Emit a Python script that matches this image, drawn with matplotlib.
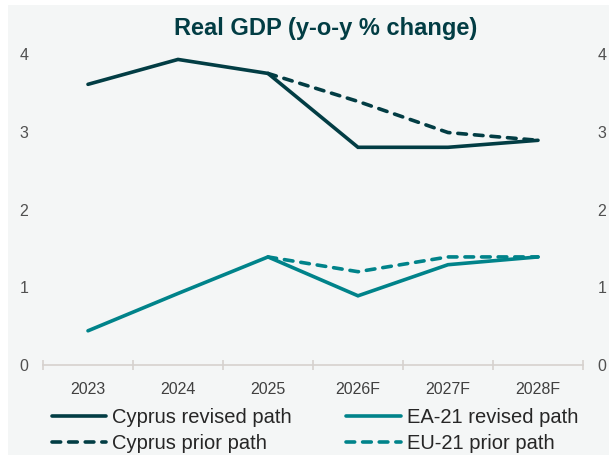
import matplotlib.pyplot as plt
from matplotlib.patches import Rectangle

years = ['2023', '2024', '2025', '2026F', '2027F', '2028F']
cyprus_revised = [3.61, 3.93, 3.75, 2.8, 2.8, 2.89]
cyprus_prior = [None, None, 3.75, 3.39, 2.99, 2.89]
ea_revised = [0.44, 0.92, 1.39, 0.89, 1.29, 1.39]
eu_prior = [None, None, 1.39, 1.2, 1.39, 1.39]

dark = '#023d44'
teal = '#00838a'
bg = '#f4f6f6'

plt.rcParams['font.family'] = ['Liberation Sans', 'DejaVu Sans']

fig = plt.figure(figsize=(6.09, 4.55), dpi=100, facecolor='white')
fig.patches.append(Rectangle((8 / 609, 0), 1, 1 - 5 / 455, transform=fig.transFigure,
                             facecolor=bg, edgecolor='none', zorder=-5))
ax = fig.add_axes([43 / 609, 1 - 365 / 455, 540 / 609, 311 / 455])
ax.patch.set_alpha(0)

x = list(range(len(years)))
px = [i for i, v in enumerate(cyprus_prior) if v is not None]

ax.plot(x, cyprus_revised, color=dark, lw=2.6, solid_capstyle='round', solid_joinstyle='miter',
        label='Cyprus revised path', zorder=4)
ax.plot(x, ea_revised, color=teal, lw=2.6, solid_capstyle='round', solid_joinstyle='miter',
        label='EA-21 revised path', zorder=4)
ax.plot(px, [cyprus_prior[i] for i in px], color=dark, lw=2.6, dashes=(2.4, 2.2),
        dash_capstyle='round', label='Cyprus prior path', zorder=3)
ax.plot(px, [eu_prior[i] for i in px], color=teal, lw=2.6, dashes=(2.4, 2.2),
        dash_capstyle='round', label='EU-21 prior path', zorder=3)

ax.set_xlim(-0.5, 5.5)
ax.set_ylim(0, 4)
ax.set_yticks([0, 1, 2, 3, 4])
ax.set_xticks(x)
ax.set_xticklabels(years)
ax.set_xticks([i - 0.5 for i in range(len(years) + 1)], minor=True)

for s in ['top', 'left', 'right']:
    ax.spines[s].set_visible(False)
ax.spines['bottom'].set_color('#d6d1ce')
ax.spines['bottom'].set_linewidth(1.2)

ax.tick_params(axis='x', which='major', length=0, pad=12, labelsize=11.5, labelcolor='#404040')
ax.tick_params(axis='x', which='minor', length=7, direction='inout', color='#d6d1ce', width=1.2)
ax.tick_params(axis='y', length=0, labelsize=11.5, labelcolor='#505050', pad=10.5,
               labelleft=True, labelright=True)

fig.text(0.535, 1 - 28 / 455, 'Real GDP (y-o-y % change)', ha='center', va='center',
         fontsize=17, fontweight='bold', color=dark)

h, l = ax.get_legend_handles_labels()
order = [0, 2, 1, 3]
fig.legend([h[i] for i in order], [l[i] for i in order], ncol=2, loc='upper left',
           bbox_to_anchor=(52 / 609, 1 - 408 / 455), frameon=False, fontsize=14.5,
           handlelength=2.7, handletextpad=0.3, columnspacing=2.7, labelspacing=0.33,
           borderaxespad=0, borderpad=0, labelcolor='#262626')

fig.savefig('out.png', dpi=100, facecolor=fig.get_facecolor())
